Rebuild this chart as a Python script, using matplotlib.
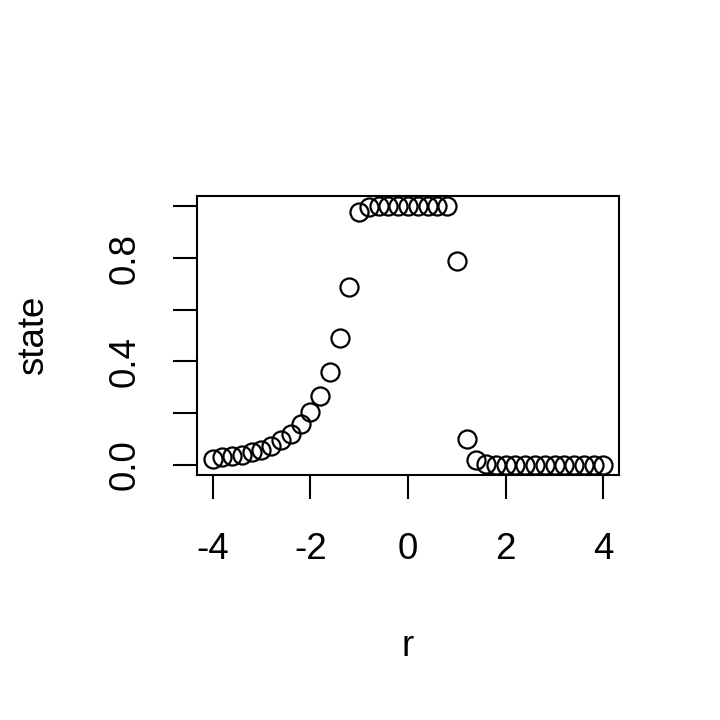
import matplotlib
matplotlib.use('Agg')
import matplotlib.pyplot as plt

r = [-4.0, -3.8, -3.6, -3.4, -3.2, -3.0, -2.8, -2.6, -2.4, -2.2,
     -2.0, -1.8, -1.6, -1.4, -1.2, -1.0, -0.8, -0.6, -0.4, -0.2,
     0.0, 0.2, 0.4, 0.6, 0.8, 1.0, 1.2, 1.4, 1.6, 1.8,
     2.0, 2.2, 2.4, 2.6, 2.8, 3.0, 3.2, 3.4, 3.6, 3.8, 4.0]
state = [0.022, 0.028, 0.032, 0.039, 0.048, 0.058, 0.074, 0.094, 0.119, 0.158,
         0.203, 0.266, 0.359, 0.490, 0.687, 0.979, 0.997, 1.0, 1.0, 1.0,
         1.0, 1.0, 1.0, 1.0, 1.0, 0.788, 0.100, 0.017, 0.004, 0.0,
         0.0, 0.0, 0.0, 0.0, 0.0, 0.0, 0.0, 0.0, 0.0, 0.0, 0.0]

x_ticks = [-4, -2, 0, 2, 4]
y_ticks = [0.0, 0.2, 0.4, 0.6, 0.8, 1.0]
y_tick_labels = ['0.0', '', '0.4', '', '0.8', '']

plt.rcParams['font.family'] = ['Liberation Sans', 'DejaVu Sans']

fig = plt.figure(figsize=(7.2, 7.2), dpi=100)
ax = fig.add_axes([197 / 720, 1 - 475 / 720, 422 / 720, 279 / 720])
ax.plot(r, state, 'o', markerfacecolor='none', markeredgecolor='black',
        markersize=13, markeredgewidth=1.6)

ax.set_xlim(-4.32, 4.32)
ax.set_ylim(-0.04, 1.04)
ax.set_xticks(x_ticks)
ax.set_xticklabels([str(t) for t in x_ticks])
ax.set_yticks(y_ticks)
ax.set_yticklabels(y_tick_labels, rotation=90, va='center')
for s in ax.spines.values():
    s.set_linewidth(1.5)
ax.tick_params(length=17, width=1.5, labelsize=26.5)
ax.tick_params(axis='x', pad=24)
ax.tick_params(axis='y', pad=22)

ax.set_xlabel('r', fontsize=26.5, labelpad=45)
ax.set_ylabel('state', fontsize=26.5, labelpad=41)

fig.savefig('out.png', dpi=100)
